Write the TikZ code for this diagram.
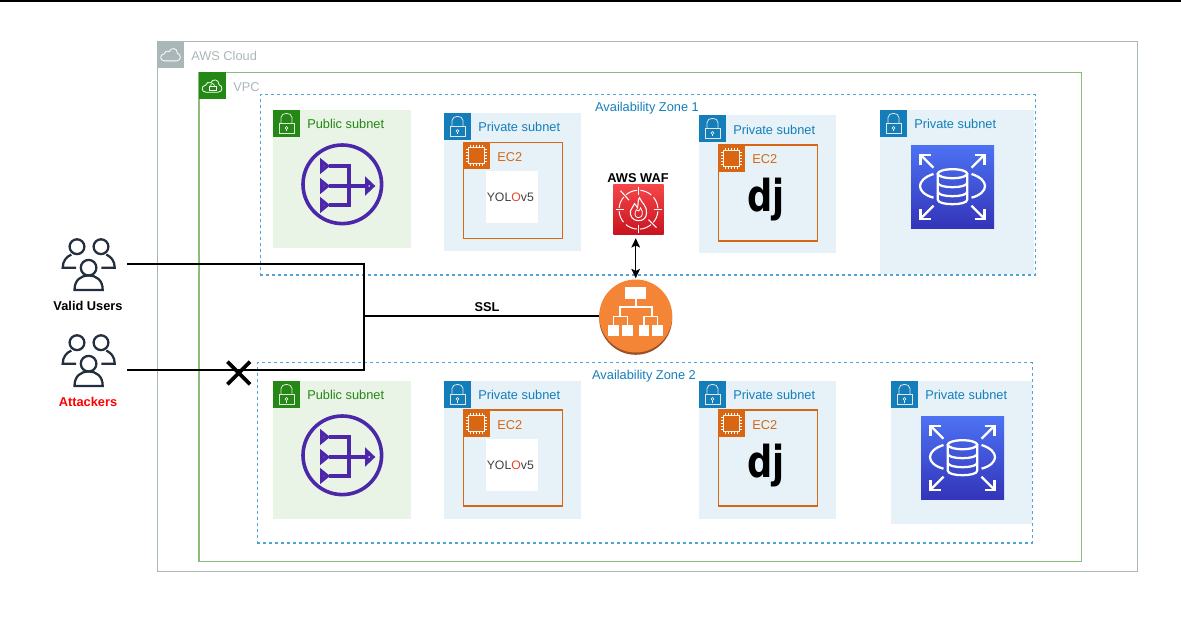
\documentclass[tikz,border=0pt]{standalone}
\usepackage{fontspec}
\setmainfont{Liberation Sans}
\newfontfamily\djfont{DejaVu Sans}
\usepackage{tikz}
\usetikzlibrary{arrows.meta,shapes.misc}
\definecolor{cloudgray}{HTML}{AAB7B8}
\definecolor{vpcline}{HTML}{8CBB7E}
\definecolor{vpcgreen}{HTML}{248814}
\definecolor{pubfill}{HTML}{E9F3E6}
\definecolor{subblue}{HTML}{147EBA}
\definecolor{privfill}{HTML}{E6F2F8}
\definecolor{zoneline}{HTML}{4FA3D6}
\definecolor{ecorange}{HTML}{D86613}
\definecolor{natpurple}{HTML}{4D27AA}
\definecolor{userdark}{HTML}{232F3E}
\definecolor{yolored}{HTML}{E8452C}
\definecolor{rdstop}{HTML}{4D72F3}
\definecolor{rdsbottom}{HTML}{3334B9}
\definecolor{waftop}{HTML}{F54749}
\definecolor{wafbottom}{HTML}{C7131F}
\definecolor{albfill}{HTML}{F58536}
\definecolor{albrimcol}{HTML}{9D5025}
\tikzset{
	lockicon/.pic={
		\draw[white!90!black,line width=.6pt] (-7.5,0) rectangle (7.5,10);
		\draw[white!90!black,line width=.6pt] (-5.5,0) -- (-5.5,-6) .. controls (-5.5,-11.5) and (5.5,-11.5) .. (5.5,-6) -- (5.5,0);
		\draw[white,line width=.5pt] (0,4.5) circle (1.5);
		\draw[white,line width=.5pt] (0,6) -- (0,8);
	},
	cloudicon/.pic={
		\draw[white,line width=.6pt] (-6,6.5) .. controls (-11,6.5) and (-11,0) .. (-6.5,-0.5) .. controls (-6,-3) and (-3,-4) .. (-1,-3) .. controls (0,-7) and (7,-7) .. (7,-1) .. controls (11,0) and (11,6.5) .. (6,6.5) -- cycle;
	},
	chipicon/.pic={
		\draw[white!90!orange,line width=.6pt] (-8,-8) rectangle (8,8);
		\foreach \t in {-6,-3,0,3,6} {
			\draw[white,line width=.4pt] (\t,-8) -- (\t,-10.5);
			\draw[white,line width=.4pt] (\t,8) -- (\t,10.5);
			\draw[white,line width=.4pt] (-8,\t) -- (-10.5,\t);
			\draw[white,line width=.4pt] (8,\t) -- (10.5,\t);
		}
	},
	naticon/.pic={
		\draw[natpurple,line width=2.7pt] (0,0) circle (39.3);
		\foreach \t in {-18.3,1.7,20.7} {
			\draw[natpurple,line width=2.6pt,line join=miter] (-20.5,\t-4.5) -- (-15,\t) -- (-20.5,\t+4.5) -- cycle;
		}
		\draw[natpurple,line width=2.6pt] (-13,-18.3) -- (6.7,-18.3) -- (6.7,20.7) -- (-13,20.7);
		\draw[natpurple,line width=2.6pt] (-13,1.7) -- (23,1.7);
		\draw[natpurple,line width=2.6pt] (24.5,-4) -- (30.5,1.7) -- (24.5,7.4) -- cycle;
	},
	rdsicon/.pic={
		\draw[white,line width=1.7pt] (-14.7,-13) -- (-14.7,13) .. controls (-14.7,19) and (14.7,19) .. (14.7,13) -- (14.7,-13);
		\draw[white,line width=1.7pt] (0,-13) ellipse (14.7 and 4.5);
		\draw[white,line width=1.7pt] (-14.7,-4) .. controls (-14.7,2) and (14.7,2) .. (14.7,-4);
		\draw[white,line width=1.7pt] (-14.7,5) .. controls (-14.7,11) and (14.7,11) .. (14.7,5);
		\draw[white,line width=1.7pt] (-19,-12.7) .. controls (-37,-7) and (-37,6) .. (-19,11);
		\draw[white,line width=1.7pt] (19,-12.7) .. controls (37,-7) and (37,6) .. (19,11);
		\foreach \sx/\sy in {-1/-1,1/-1,-1/1,1/1} {
			\draw[white,line width=1.7pt] (\sx*19,\sy*19) -- (\sx*32,\sy*32);
			\draw[white,line width=1.7pt] (\sx*22,\sy*32) -- (\sx*32,\sy*32) -- (\sx*32,\sy*22);
		}
	},
	usericon/.pic={
		\draw[userdark,line width=1.7pt] (-11.3,-17.3) circle (7.4);
		\draw[userdark,line width=1.7pt] (12.7,-17.3) circle (7.4);
		\draw[userdark,line width=1.7pt] (0.3,3.7) circle (7.8);
		\draw[userdark,line width=1.7pt] (-12.3,3.7) -- (-25.6,3.7) .. controls (-25.6,-3) and (-22,-7) .. (-17,-9.5);
		\draw[userdark,line width=1.7pt] (13,3.7) -- (26.4,3.7) .. controls (26.4,-3) and (23,-7) .. (18,-9.5);
		\draw[userdark,line width=1.7pt] (-13.8,26) -- (14.4,26) .. controls (14.4,16) and (8,11.5) .. (0.3,11.5) .. controls (-7.4,11.5) and (-13.8,16) .. (-13.8,26) -- cycle;
	}
}
\begin{document}
\begin{tikzpicture}[x=0.75pt,y=-0.75pt]
	\tikzstyle{cloudbox}=[draw=cloudgray,line width=.85pt,minimum width=735pt,minimum height=398pt,inner sep=0pt]
	\tikzstyle{vpcbox}=[draw=vpcline,line width=1.1pt,minimum width=662pt,minimum height=366.5pt,inner sep=0pt]
	\tikzstyle{zonebox}=[draw=zoneline,line width=.95pt,dash pattern=on 2.25pt off 2.25pt,inner sep=0pt]
	\tikzstyle{pubnet}=[fill=pubfill,minimum width=103.5pt,minimum height=103.5pt,inner sep=0pt]
	\tikzstyle{privnet}=[fill=privfill,minimum width=102.75pt,minimum height=103.5pt,inner sep=0pt]
	\tikzstyle{ecbox}=[draw=ecorange,line width=.85pt,fill=privfill,minimum width=74.25pt,minimum height=72pt,inner sep=0pt]
	\tikzstyle{whitebox}=[fill=white,minimum size=39pt,inner sep=0pt]
	\tikzstyle{badge}=[minimum size=20.25pt,inner sep=0pt,anchor=north west]
	\tikzstyle{label}=[anchor=west,inner sep=0pt,font=\fontsize{9.6}{11}\selectfont]
	\tikzstyle{boldlabel}=[inner sep=0pt,font=\fontsize{9.6}{11}\selectfont\bfseries]
	\tikzstyle{rdsbox}=[top color=rdstop,bottom color=rdsbottom,minimum size=62.25pt,inner sep=0pt]
	\tikzstyle{djlogo}=[inner sep=0pt,font=\djfont\bfseries\fontsize{33}{33}\selectfont]
	\tikzstyle{wire}=[line width=1.5pt,black]
	\useasboundingbox (0,0) rectangle (1181,631);
	\coordinate (topleft) at (0,1);
	\coordinate (topright) at (1181,1);
	\draw[line width=1.5pt] (topleft) -- (topright);
	% containers
	\node[cloudbox] (aws) at (647.3,306.5) {};
	\node[badge,fill=cloudgray] (awsbadge) at (aws.north west) {};
	\pic at (awsbadge.center) {cloudicon};
	\node[label,text=cloudgray] (awstext) at (191,55.5) {AWS Cloud};
	\node[vpcbox] (vpc) at (640.3,317) {};
	\node[badge,fill=vpcgreen] (vpcbadge) at (vpc.north west) {};
	\pic at (vpcbadge.center) {cloudicon};
	\draw[white,line width=.5pt] (209,86.5) rectangle (216,90.5);
	\draw[white,line width=.5pt] (210.5,86.5) .. controls (210.5,82.5) and (214.5,82.5) .. (214.5,86.5);
	\node[label,text=cloudgray] (vpctext) at (233,87) {VPC};
	\node[zonebox,minimum width=581pt,minimum height=135.4pt] (zone1) at (647.8,184.8) {};
	\node[label,anchor=center,text=subblue] (zone1text) at (647,108) {Availability Zone 1};
	\node[zonebox,minimum width=581pt,minimum height=135.4pt] (zone2) at (644.8,452.7) {};
	\node[label,anchor=center,text=subblue] (zone2text) at (644,376) {Availability Zone 2};
	% zone 1
	\node[pubnet] (pub1) at (342,179) {};
	\node[badge,fill=vpcgreen] (pub1badge) at (pub1.north west) {};
	\pic at (pub1badge.center) {lockicon};
	\node[label,text=vpcgreen] (pub1text) at (307,124) {Public subnet};
	\pic at (342.3,184.3) {naticon};
	\node[privnet] (priv1) at (512.5,182) {};
	\node[badge,fill=subblue] (priv1badge) at (priv1.north west) {};
	\pic at (priv1badge.center) {lockicon};
	\node[label,text=subblue] (priv1text) at (478,127) {Private subnet};
	\node[ecbox] (ec1) at (513,190.5) {};
	\node[badge,fill=ecorange] (ec1badge) at (ec1.north west) {};
	\pic at (ec1badge.center) {chipicon};
	\node[label,text=ecorange] (ec1text) at (497,157) {EC2};
	\node[whitebox] (yolo1) at (512.3,197.3) {\fontsize{9.2}{11}\selectfont\textcolor{black!75}{YOL}\textcolor{yolored}{O}\textcolor{black!75}{v5}\kern3pt};
	\node[privnet] (priv2) at (767.5,184) {};
	\node[badge,fill=subblue] (priv2badge) at (priv2.north west) {};
	\pic at (priv2badge.center) {lockicon};
	\node[label,text=subblue] (priv2text) at (733,130) {Private subnet};
	\node[ecbox] (ec2) at (767.8,193) {};
	\node[badge,fill=ecorange] (ec2badge) at (ec2.north west) {};
	\pic at (ec2badge.center) {chipicon};
	\node[label,text=ecorange] (ec2text) at (752,159) {EC2};
	\node[djlogo] (dj1) at (766,200) {\scalebox{.8}[1]{dj}};
	\node[fill=privfill,minimum width=115.5pt,minimum height=123pt,inner sep=0pt] (priv3) at (957,192) {};
	\node[badge,fill=subblue] (priv3badge) at (priv3.north west) {};
	\pic at (priv3badge.center) {lockicon};
	\node[label,text=subblue] (priv3text) at (914,124) {Private subnet};
	\node[rdsbox] (rds1) at (952.5,186.7) {};
	\pic at (rds1.center) {rdsicon};
	% zone 2
	\node[pubnet] (pub2) at (342,450) {};
	\node[badge,fill=vpcgreen] (pub2badge) at (pub2.north west) {};
	\pic at (pub2badge.center) {lockicon};
	\node[label,text=vpcgreen] (pub2text) at (307,395) {Public subnet};
	\pic at (342.3,455.3) {naticon};
	\node[privnet] (priv4) at (512.5,450) {};
	\node[badge,fill=subblue] (priv4badge) at (priv4.north west) {};
	\pic at (priv4badge.center) {lockicon};
	\node[label,text=subblue] (priv4text) at (478,395) {Private subnet};
	\node[ecbox] (ec3) at (513,458) {};
	\node[badge,fill=ecorange] (ec3badge) at (ec3.north west) {};
	\pic at (ec3badge.center) {chipicon};
	\node[label,text=ecorange] (ec3text) at (497,425) {EC2};
	\node[whitebox] (yolo2) at (512.3,465) {\fontsize{9.2}{11}\selectfont\textcolor{black!75}{YOL}\textcolor{yolored}{O}\textcolor{black!75}{v5}\kern3pt};
	\node[privnet] (priv5) at (767.5,450) {};
	\node[badge,fill=subblue] (priv5badge) at (priv5.north west) {};
	\pic at (priv5badge.center) {lockicon};
	\node[label,text=subblue] (priv5text) at (733,395) {Private subnet};
	\node[ecbox] (ec4) at (767.8,458) {};
	\node[badge,fill=ecorange] (ec4badge) at (ec4.north west) {};
	\pic at (ec4badge.center) {chipicon};
	\node[label,text=ecorange] (ec4text) at (752,425) {EC2};
	\node[djlogo] (dj2) at (766,466) {\scalebox{.8}[1]{dj}};
	\node[fill=privfill,minimum width=105.75pt,minimum height=107.25pt,inner sep=0pt] (priv6) at (961.5,452.5) {};
	\node[badge,fill=subblue] (priv6badge) at (priv6.north west) {};
	\pic at (priv6badge.center) {lockicon};
	\node[label,text=subblue] (priv6text) at (925,395) {Private subnet};
	\node[rdsbox] (rds2) at (962.5,457.7) {};
	\pic at (rds2.center) {rdsicon};
	% waf and balancer
	\node[boldlabel] (waftext) at (638,178) {AWS WAF};
	\node[minimum size=37.8pt,inner sep=0pt,top color=waftop,bottom color=wafbottom] (waf) at (638.5,209.7) {};
	\draw[white,line width=.75pt,dash pattern=on 9pt off 2.5pt,dash phase=10.25pt] (waf.center) circle (19.5);
	\draw[white,line width=.6pt] (638.5,186.7) -- (638.5,194.7);
	\draw[white,line width=.6pt] (638.5,224.7) -- (638.5,232.7);
	\draw[white,line width=.6pt] (615.5,209.7) -- (623.5,209.7);
	\draw[white,line width=.6pt] (653.5,209.7) -- (661.5,209.7);
	\draw[white,line width=.8pt] (620.5,190.7) -- (629,200.2);
	\draw[white,line width=.8pt] (648.5,219.7) -- (656.5,227.7);
	\draw[white,line width=.8pt] (638.5,220.7) .. controls (632.5,220.7) and (629.5,215.7) .. (630.5,210.7) .. controls (631.5,207.7) and (633.5,206.7) .. (634.5,203.7) .. controls (636.5,205.7) and (636.5,206.7) .. (637.5,207.7) .. controls (638.5,203.7) and (637.5,199.7) .. (639.5,197.7) .. controls (641.5,202.7) and (647.5,206.7) .. (646.5,212.7) .. controls (646.5,217.7) and (643.5,220.7) .. (638.5,220.7);
	\draw[white,line width=.6pt] (638.5,217.7) .. controls (634.5,217.7) and (634,212.7) .. (636.5,209.7) .. controls (637.5,211.7) and (639.5,211.7) .. (640.5,207.7) .. controls (643.5,211.7) and (643,217.7) .. (638.5,217.7);
	\node[circle,fill=albrimcol,minimum size=54.75pt,inner sep=0pt] (albrim) at (635.7,318.3) {};
	\node[circle,fill=albfill,minimum size=54.75pt,inner sep=0pt] (alb) at (635.7,316) {};
	\fill[white] (625,286.6) rectangle (646.4,299);
	\draw[white,line width=1.3pt] (635.7,299) -- (635.7,307.3);
	\draw[white,line width=1.3pt] (620,316.6) -- (620,307.3) -- (651.7,307.3) -- (651.7,316.6);
	\draw[white,line width=1.3pt] (613.4,325) -- (613.4,316.6) -- (627.4,316.6) -- (627.4,325);
	\draw[white,line width=1.3pt] (644,325) -- (644,316.6) -- (657.4,316.6) -- (657.4,325);
	\foreach \bx in {608,622,638.7,652.4} {
		\fill[white] (\bx,325) rectangle (\bx+10.7,335.6);
	}
	% users
	\pic at (88.3,264) {usericon};
	\node[boldlabel] (validtext) at (88,306) {Valid Users};
	\pic at (88.3,360) {usericon};
	\node[boldlabel,text=red] (attacktext) at (88,402) {Attackers};
	% wires
	\coordinate (validend) at (127,263.5);
	\coordinate (attackend) at (127,369.5);
	\coordinate (jointtop) at (364,263.5);
	\coordinate (jointmid) at (364,316);
	\coordinate (jointbot) at (364,369.5);
	\draw[wire] (validend) -- (jointtop) -- (jointbot) -- (attackend);
	\draw[wire] (jointmid) -- (alb);
	\node[boldlabel] (ssltext) at (487,307) {SSL};
	\draw[line width=1pt,{Stealth[length=7pt,width=6.5pt,inset=1.5pt]}-{Stealth[length=7pt,width=6.5pt,inset=1.5pt]},shorten <=2.25pt,shorten >=.75pt] (alb.north |- waf.south) -- (alb.north);
	\node[cross out,draw=black,line width=2.8pt,minimum size=17pt,inner sep=0pt,outer sep=0pt] (blocked) at (238.7,373) {};
\end{tikzpicture}
\end{document}
